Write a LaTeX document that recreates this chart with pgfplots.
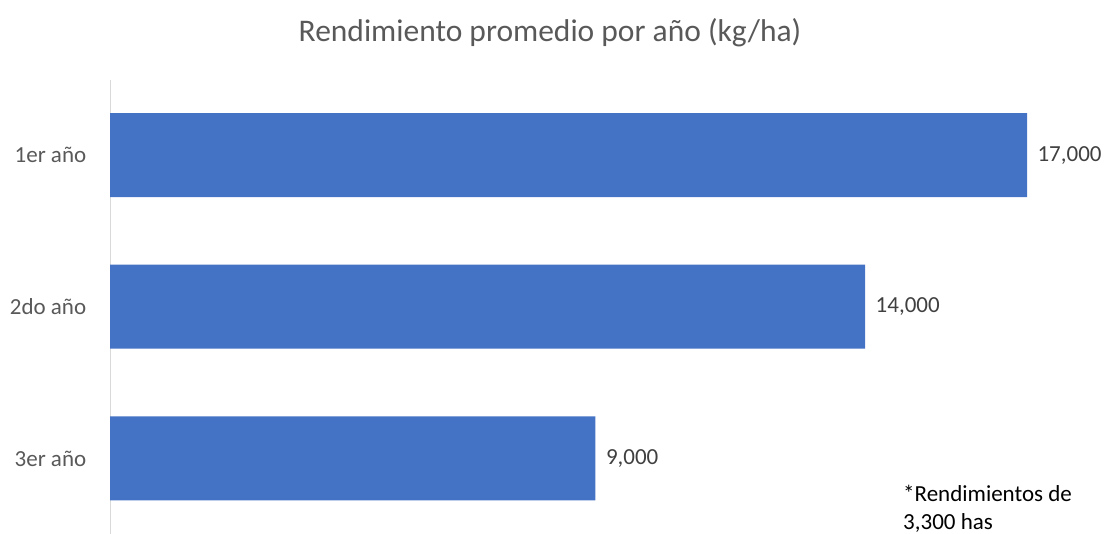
\documentclass[border=0pt]{standalone}
\usepackage{pgfplots}
\pgfplotsset{compat=1.18}
\usepackage{fontspec}
\setmainfont{Carlito}
\definecolor{barblue}{HTML}{4472C4}
\definecolor{tickgray}{HTML}{595959}
\definecolor{linegray}{HTML}{D9D9D9}
\definecolor{valgray}{HTML}{404040}
\begin{document}
\begin{tikzpicture}
\useasboundingbox (0pt,0pt) rectangle (1105pt,534pt);
\begin{axis}[
  at={(110pt,-1pt)}, anchor=south west,
  scale only axis, width=917pt, height=455pt,
  xmin=0, xmax=17000, ymin=-0.505, ymax=2.495,
  xbar, bar width=84pt,
  hide x axis,
  axis y line*=left,
  y axis line style={color=linegray, line width=1pt},
  ytick={0,1,2}, yticklabels={3er año,2do año,1er año},
  ytick style={draw=none},
  yticklabel style={font=\fontsize{23}{23}\selectfont, text=tickgray, xshift=-16pt},
  nodes near coords={\pgfmathprintnumber[1000 sep={,},assume math mode=true]{\pgfplotspointmeta}},
  nodes near coords style={font=\fontsize{23}{23}\selectfont, text=valgray, anchor=west, xshift=7pt},
  clip=false,
]
\addplot[draw=none, fill=barblue] coordinates {(17000,2) (14000,1) (9000,0)};
\end{axis}
\node[font=\fontsize{31.5}{31.5}\selectfont, text=tickgray, anchor=base] at (550pt,492pt) {Rendimiento promedio por año (kg/ha)};
\node[font=\fontsize{23}{23}\selectfont, text=black, anchor=base west, inner sep=0pt] at (903pt,32pt) {*Rendimientos de};
\node[font=\fontsize{23}{23}\selectfont, text=black, anchor=base west, inner sep=0pt] at (903pt,4pt) {3,300 has};
\end{tikzpicture}
\end{document}
